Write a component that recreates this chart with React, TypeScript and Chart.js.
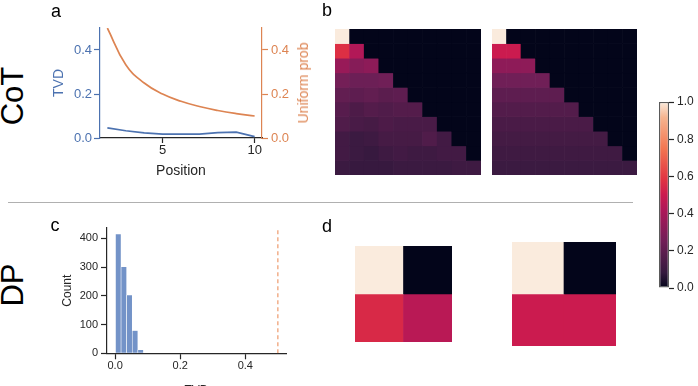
import React, { useEffect, useRef } from 'react';
import { Chart, registerables } from 'chart.js';

Chart.register(...registerables);

const FONT = '"Liberation Sans", Arial, Helvetica, sans-serif';
const BLUE = '#4C72B0';
const ORANGE = '#DD8452';
const INK = '#262626';
const HIST = '#7393C8';
const DASH = '#EE9A6C';

// ---- Panel a: CoT TVD vs. position ----
const positions = [2, 3, 4, 5, 6, 7, 8, 9, 10];
const tvdByPosition = [0.046, 0.033, 0.023, 0.018, 0.018, 0.018, 0.024, 0.027, 0.006];
const uniformProb = [0.5, 0.333, 0.25, 0.2, 0.167, 0.143, 0.125, 0.111, 0.1];
const aXTicks = [5, 10];
const aYTicks = [0, 0.2, 0.4];

// ---- Panel b: CoT attention-like matrices ----
const cotLearned = [
  [1.0, 0, 0, 0, 0, 0, 0, 0, 0, 0],
  [0.57, 0.43, 0, 0, 0, 0, 0, 0, 0, 0],
  [0.36, 0.31, 0.33, 0, 0, 0, 0, 0, 0, 0],
  [0.26, 0.24, 0.24, 0.25, 0, 0, 0, 0, 0, 0],
  [0.21, 0.2, 0.21, 0.19, 0.2, 0, 0, 0, 0, 0],
  [0.18, 0.15, 0.17, 0.16, 0.17, 0.17, 0, 0, 0, 0],
  [0.16, 0.14, 0.13, 0.15, 0.14, 0.14, 0.14, 0, 0, 0],
  [0.12, 0.1, 0.11, 0.13, 0.13, 0.13, 0.16, 0.12, 0, 0],
  [0.12, 0.1, 0.09, 0.11, 0.12, 0.11, 0.11, 0.12, 0.12, 0],
  [0.1, 0.09, 0.09, 0.09, 0.1, 0.1, 0.1, 0.1, 0.11, 0.11],
];
const cotUniform = [
  [1.0, 0, 0, 0, 0, 0, 0, 0, 0, 0],
  [0.5, 0.5, 0, 0, 0, 0, 0, 0, 0, 0],
  [0.333, 0.333, 0.333, 0, 0, 0, 0, 0, 0, 0],
  [0.25, 0.25, 0.25, 0.25, 0, 0, 0, 0, 0, 0],
  [0.2, 0.2, 0.2, 0.2, 0.2, 0, 0, 0, 0, 0],
  [0.167, 0.167, 0.167, 0.167, 0.167, 0.167, 0, 0, 0, 0],
  [0.143, 0.143, 0.143, 0.143, 0.143, 0.143, 0.143, 0, 0, 0],
  [0.125, 0.125, 0.125, 0.125, 0.125, 0.125, 0.125, 0.125, 0, 0],
  [0.111, 0.111, 0.111, 0.111, 0.111, 0.111, 0.111, 0.111, 0.111, 0],
  [0.1, 0.1, 0.1, 0.1, 0.1, 0.1, 0.1, 0.1, 0.1, 0.1],
];

// ---- Panel c: DP TVD histogram ----
const tvdBinCenters = [0.0096, 0.0268, 0.044, 0.0612, 0.0784];
const tvdCounts = [415, 301, 203, 79, 12];
const uniformTvd = 0.5;
const cXTicks = [0, 0.2, 0.4];
const cYTicks = [0, 100, 200, 300, 400];
const cXRange = [-0.025, 0.525];
const cYMax = 436;

// ---- Panel d: DP matrices ----
const dpLearned = [
  [1.0, 0],
  [0.55, 0.45],
];
const dpUniform = [
  [1.0, 0],
  [0.5, 0.5],
];

// ---- Colorbar ----
const cbarTicks = [0, 0.2, 0.4, 0.6, 0.8, 1.0];

// rocket colormap anchors
const ROCKET: [number, string][] = [
  [0, '#03051A'],
  [0.0833, '#35193E'],
  [0.25, '#701F57'],
  [0.4167, '#AD1759'],
  [0.5, '#CB1B4F'],
  [0.5833, '#E13342'],
  [0.75, '#F37651'],
  [0.9167, '#F6B48F'],
  [1, '#FAEBDD'],
];
function hex(c: string) {
  return [1, 3, 5].map((i) => parseInt(c.slice(i, i + 2), 16));
}
function rocket(v: number) {
  const t = Math.max(0, Math.min(1, v));
  for (let i = 1; i < ROCKET.length; i++) {
    const [t1, c1] = ROCKET[i];
    const [t0, c0] = ROCKET[i - 1];
    if (t <= t1) {
      const f = (t - t0) / (t1 - t0);
      const a = hex(c0);
      const b = hex(c1);
      const m = a.map((x, k) => Math.round(x + (b[k] - x) * f));
      return `rgb(${m[0]},${m[1]},${m[2]})`;
    }
  }
  return ROCKET[ROCKET.length - 1][1];
}

function fixBox(size: number, horizontal: boolean) {
  return (s: any) => {
    if (horizontal) s.height = size;
    else s.width = size;
    s.paddingTop = 0;
    s.paddingBottom = 0;
    s.paddingLeft = 0;
    s.paddingRight = 0;
  };
}
function fixedTicks(values: number[]) {
  return (s: any) => {
    s.ticks = values.map((v) => ({ value: v }));
  };
}

const base = {
  animation: false as const,
  responsive: false,
  devicePixelRatio: 1,
  plugins: { legend: { display: false }, tooltip: { enabled: false }, title: { display: false } },
};

function heatmapConfig(matrix: number[][]): any {
  const n = matrix.length;
  return {
    type: 'bar',
    data: {
      labels: matrix[0].map((_, j) => String(j)),
      datasets: matrix.map((row) => ({
        data: row.map(() => 1),
        backgroundColor: row.map(rocket),
        borderWidth: 0,
        barPercentage: 1,
        categoryPercentage: 1,
      })),
    },
    options: {
      ...base,
      layout: { padding: 0 },
      scales: {
        x: { display: false, stacked: true },
        y: { display: false, stacked: true, reverse: true, min: 0, max: n },
      },
    },
  };
}

type Box = { x: number; y: number; w: number; h: number };
const BOX_A: Box = { x: 40, y: 20, w: 280, h: 170 };
const BOX_C: Box = { x: 40, y: 210, w: 260, h: 190 };
const BOX_B1: Box = { x: 335, y: 29, w: 146, h: 146 };
const BOX_B2: Box = { x: 492, y: 29, w: 145, h: 146 };
const BOX_D1: Box = { x: 355, y: 246, w: 97, h: 96 };
const BOX_D2: Box = { x: 512, y: 242, w: 104, h: 104 };
const BOX_CB: Box = { x: 640, y: 90, w: 58, h: 210 };

function configA(): any {
  return {
    type: 'line',
    data: {
      datasets: [
        {
          data: positions.map((x, i) => ({ x, y: tvdByPosition[i] })),
          borderColor: BLUE,
          borderWidth: 1.7,
          pointRadius: 0,
          yAxisID: 'y',
        },
        {
          data: positions.map((x, i) => ({ x, y: uniformProb[i] })),
          borderColor: ORANGE,
          borderWidth: 1.7,
          pointRadius: 0,
          yAxisID: 'y2',
          tension: 0.45,
        },
      ],
    },
    options: {
      ...base,
      layout: { padding: { top: 8, left: 0, right: 0, bottom: 0 } },
      scales: {
        x: {
          type: 'linear',
          min: 1.6,
          max: 10.4,
          afterFit: fixBox(52, true),
          afterBuildTicks: fixedTicks(aXTicks),
          grid: { drawOnChartArea: false, tickLength: 5, tickColor: INK, tickWidth: 1.2 },
          border: { color: INK, width: 1.2 },
          ticks: { color: INK, font: { size: 13 }, padding: 0, maxRotation: 0, callback: (v: any) => String(v) },
          title: { display: true, text: 'Position', color: INK, font: { size: 14 }, padding: { top: 0, bottom: 10.6 } },
        },
        y: {
          type: 'linear',
          position: 'left',
          min: 0,
          max: 0.5,
          afterFit: fixBox(60, false),
          afterBuildTicks: fixedTicks(aYTicks),
          grid: { drawOnChartArea: false, tickLength: 6, tickColor: BLUE, tickWidth: 1.2 },
          border: { color: BLUE, width: 1.2 },
          ticks: { color: BLUE, font: { size: 13 }, padding: 2, callback: (v: any) => Number(v).toFixed(1) },
          title: { display: true, text: 'TVD', color: BLUE, font: { size: 14 }, padding: { top: 10.6, bottom: 0 } },
        },
        y2: {
          type: 'linear',
          position: 'right',
          min: 0,
          max: 0.5,
          afterFit: fixBox(58, false),
          afterBuildTicks: fixedTicks(aYTicks),
          grid: { drawOnChartArea: false, tickLength: 6, tickColor: ORANGE, tickWidth: 1.2 },
          border: { color: ORANGE, width: 1.2 },
          ticks: { color: ORANGE, font: { size: 13 }, padding: 3, callback: (v: any) => Number(v).toFixed(1) },
        },
      },
    },
  };
}

function configC(): any {
  return {
    type: 'bar',
    data: {
      datasets: [
        {
          type: 'bar',
          data: tvdBinCenters.map((x, i) => ({ x, y: tvdCounts[i] })),
          backgroundColor: HIST,
          borderColor: '#ffffff',
          borderWidth: { left: 0.6, right: 0.6, top: 0.6, bottom: 0 },
          borderSkipped: 'start',
          barPercentage: 1,
          categoryPercentage: 1,
        },
        {
          type: 'line',
          data: [
            { x: uniformTvd, y: 0 },
            { x: uniformTvd, y: cYMax },
          ],
          borderColor: DASH,
          borderWidth: 1.2,
          borderDash: [4, 3],
          pointRadius: 0,
        },
      ],
    },
    options: {
      ...base,
      layout: { padding: { top: 18, left: 0, right: 14, bottom: 0 } },
      scales: {
        x: {
          type: 'linear',
          min: cXRange[0],
          max: cXRange[1],
          offset: false,
          afterFit: fixBox(46.7, true),
          afterBuildTicks: fixedTicks(cXTicks),
          grid: { offset: false, drawOnChartArea: false, tickLength: 6, tickColor: INK, tickWidth: 1.2 },
          border: { color: INK, width: 1.2 },
          ticks: { color: INK, font: { size: 11 }, padding: 0, maxRotation: 0, callback: (v: any) => Number(v).toFixed(1) },
          title: { display: true, text: 'TVD', color: INK, font: { size: 12 }, padding: { top: 0, bottom: 1.8 } },
        },
        y: {
          type: 'linear',
          min: 0,
          max: cYMax,
          afterFit: fixBox(67, false),
          afterBuildTicks: fixedTicks(cYTicks),
          grid: { drawOnChartArea: false, tickLength: 6, tickColor: INK, tickWidth: 1.2 },
          border: { color: INK, width: 1.2 },
          ticks: { color: INK, font: { size: 11 }, padding: 3, callback: (v: any) => String(v) },
          title: { display: true, text: 'Count', color: INK, font: { size: 12 }, padding: { top: 20.3, bottom: 0 } },
        },
      },
    },
  };
}

function configCbar(): any {
  return {
    type: 'bar',
    data: {
      labels: [''],
      datasets: [
        {
          data: [1],
          backgroundColor: (c: any) => {
            const ca = c.chart.chartArea;
            if (!ca) return '#000';
            const g = c.chart.ctx.createLinearGradient(0, ca.bottom, 0, ca.top);
            ROCKET.forEach(([t, col]) => g.addColorStop(t, col));
            return g;
          },
          borderColor: '#5a5a5a',
          borderWidth: 1.3,
          borderSkipped: false,
          barPercentage: 1,
          categoryPercentage: 1,
          inflateAmount: 0,
        },
      ],
    },
    options: {
      ...base,
      layout: { padding: { left: 19, top: 12, bottom: 12, right: 0 } },
      scales: {
        x: { display: false },
        y: {
          position: 'right',
          min: 0,
          max: 1,
          afterFit: fixBox(29, false),
          afterBuildTicks: fixedTicks(cbarTicks),
          grid: { drawOnChartArea: false, tickLength: 5, tickColor: INK, tickWidth: 1.2 },
          border: { display: false },
          ticks: { color: INK, font: { size: 12 }, padding: 3, callback: (v: any) => Number(v).toFixed(1) },
        },
      },
    },
  };
}

function Canvas({ box, cref }: { box: Box; cref: React.RefObject<HTMLCanvasElement | null> }) {
  return (
    <canvas
      ref={cref}
      width={box.w}
      height={box.h}
      style={{ position: 'absolute', left: box.x, top: box.y, width: box.w, height: box.h }}
    />
  );
}

function Label({ text, x, y, size, color = '#000', rotate = false }: { text: string; x: number; y: number; size: number; color?: string; rotate?: boolean }) {
  if (rotate) {
    return (
      <div
        style={{
          position: 'absolute',
          left: x,
          top: y,
          fontSize: size,
          lineHeight: `${size}px`,
          color,
          whiteSpace: 'nowrap',
          transform: 'translate(-50%, -50%) rotate(-90deg)',
        }}
      >
        {text}
      </div>
    );
  }
  return (
    <div style={{ position: 'absolute', left: x, top: y, fontSize: size, lineHeight: `${size}px`, color, whiteSpace: 'nowrap' }}>
      {text}
    </div>
  );
}

export default function App() {
  const refA = useRef<HTMLCanvasElement>(null);
  const refB1 = useRef<HTMLCanvasElement>(null);
  const refB2 = useRef<HTMLCanvasElement>(null);
  const refC = useRef<HTMLCanvasElement>(null);
  const refD1 = useRef<HTMLCanvasElement>(null);
  const refD2 = useRef<HTMLCanvasElement>(null);
  const refCb = useRef<HTMLCanvasElement>(null);

  useEffect(() => {
    Chart.defaults.font.family = FONT;
    Chart.defaults.color = INK;
    const charts: Chart[] = [];
    charts.push(new Chart(refA.current!, configA()));
    charts.push(new Chart(refB1.current!, heatmapConfig(cotLearned)));
    charts.push(new Chart(refB2.current!, heatmapConfig(cotUniform)));
    charts.push(new Chart(refC.current!, configC()));
    charts.push(new Chart(refD1.current!, heatmapConfig(dpLearned)));
    charts.push(new Chart(refD2.current!, heatmapConfig(dpUniform)));
    charts.push(new Chart(refCb.current!, configCbar()));
    return () => charts.forEach((c) => c.destroy());
  }, []);

  return (
    <div
      style={{
        position: 'fixed',
        left: 0,
        top: 0,
        width: 698,
        height: 386,
        overflow: 'hidden',
        background: '#fff',
        fontFamily: FONT,
      }}
    >
      <Canvas box={BOX_A} cref={refA} />
      <Canvas box={BOX_B1} cref={refB1} />
      <Canvas box={BOX_B2} cref={refB2} />
      <Canvas box={BOX_C} cref={refC} />
      <Canvas box={BOX_D1} cref={refD1} />
      <Canvas box={BOX_D2} cref={refD2} />
      <Canvas box={BOX_CB} cref={refCb} />

      <div style={{ position: 'absolute', left: 8, top: 201.5, width: 625, height: 1.4, background: '#b0b0b0' }} />

      <Label text="CoT" x={11.5} y={96} size={31} rotate />
      <Label text="DP" x={11.5} y={284.5} size={31} rotate />
      <Label text="Uniform prob" x={302.5} y={82.5} size={14} color={ORANGE} rotate />

      <Label text="a" x={51} y={1.5} size={18} />
      <Label text="b" x={322} y={0.8} size={18} />
      <Label text="c" x={50.5} y={215.5} size={18} />
      <Label text="d" x={322} y={216.5} size={18} />
    </div>
  );
}
